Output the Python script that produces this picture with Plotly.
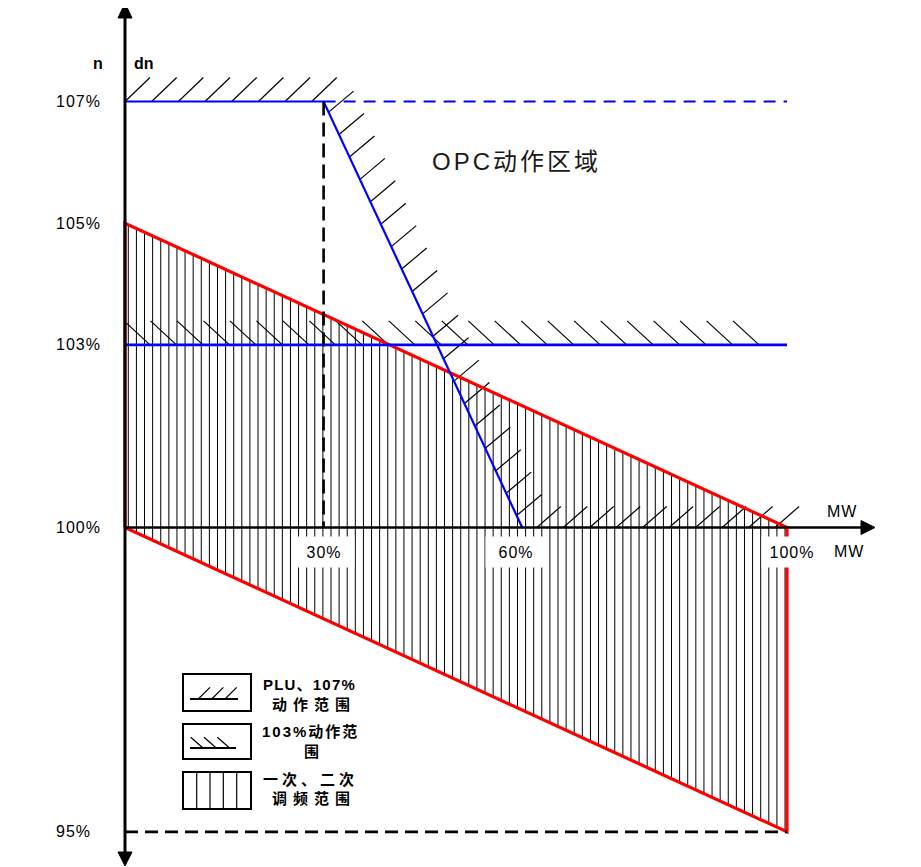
import numpy as np
import plotly.graph_objects as go

# ---------------- data (percent units) ----------------
x_tick_vals = [30, 60, 100]
x_tick_text = ["30%", "60%", "100%"]
y_tick_vals = [107, 105, 103, 100, 95]
y_tick_text = ["107%", "105%", "103%", "100%", "95%"]

# primary / secondary frequency regulation band (parallelogram)
band_x = [0, 0, 100, 100, 0]
band_y = [100, 105, 100, 95, 100]
band_upper_x = [0, 100]
band_upper_y = [105, 100]
band_lower_x = [0, 100]
band_lower_y = [100, 95]

# OPC / PLU 107% limit
opc_x = [0, 30, 60]
opc_y = [107, 107, 100]
opc_dash_x = [30, 100]
opc_dash_y = [107, 107]
# 103% limit
lim103_x = [0, 100]
lim103_y = [103, 103]
# 30% load marker and 95% floor
load30_x = [30, 30]
load30_y = [107, 100]
min95_x = [0, 100]
min95_y = [95, 95]

legend_lines = [["PLU、107%", "动作范围"], ["103%动作范", "围"], ["一次、二次", "调频范围"]]

# ---------------- pixel <-> data mapping (screen pixels) ----------------
OFF = 8                      # browser body margin
W, H = 921 - OFF, 867 - OFF
X0PX, XSCALE = 125.0, 6.62     # screen px of 0%, px per 1%
Y0PX, YSCALE = 527.5, 60.86    # screen px of 100%, px per 1%
xr = [(OFF - X0PX) / XSCALE, (OFF + W - X0PX) / XSCALE]
yr = [100 - (OFF + H - Y0PX) / YSCALE, 100 + (Y0PX - OFF) / YSCALE]


def px2x(p):
    return (p - X0PX) / XSCALE


def py2y(p):
    return 100 - (p - Y0PX) / YSCALE


def seg_trace(segs, color="black", width=1.0, dash=None):
    xs, ys = [], []
    for (a, b, c, d) in segs:
        xs += [a, c, None]
        ys += [b, d, None]
    return go.Scatter(x=xs, y=ys, mode="lines", hoverinfo="skip", showlegend=False,
                      line=dict(color=color, width=width, dash=dash))


def ticks(bases, vec_px):
    dx, dy = vec_px[0] / XSCALE, -vec_px[1] / YSCALE
    return [(bx, by, bx + dx, by + dy) for bx, by in bases]


fig = go.Figure()

# vertical hatch inside regulation band
vx = np.linspace(0.5, 99.7, 82)
vtop = np.interp(vx, band_upper_x, band_upper_y)
vbot = np.interp(vx, band_lower_x, band_lower_y)
fig.add_trace(seg_trace([(x, b, x, t) for x, t, b in zip(vx, vtop, vbot)], width=1))

# PLU 107% hatch (above 107 line, 0..30%)
b107 = [(x, 107) for x in np.arange(0, 29, 4.03)]
# along OPC slope
tt = np.linspace(0.025, 0.972, 19)
bdiag = [(opc_x[1] + t * (opc_x[2] - opc_x[1]), opc_y[1] + t * (opc_y[2] - opc_y[1])) for t in tt]
# along axis beyond 60%
baxis = [(62.2 + 4 * k, 100) for k in range(10)]
segs = ticks(b107, (25, -24)) + ticks(bdiag, (25, -21)) + ticks(baxis, (24, -21))
fig.add_trace(seg_trace(segs, width=1.2))

# 103% hatch
b103 = [(3.78 + 4 * k, 103) for k in range(24)]
fig.add_trace(seg_trace(ticks(b103, (-26, -24)), width=1.2))

# red band outline
fig.add_trace(go.Scatter(x=band_x, y=band_y, mode="lines", hoverinfo="skip", showlegend=False,
                         line=dict(color="#ff0000", width=3.2)))
# blue limits
fig.add_trace(go.Scatter(x=lim103_x, y=lim103_y, mode="lines", showlegend=False,
                         line=dict(color="#0000ff", width=2.6)))
fig.add_trace(go.Scatter(x=opc_dash_x, y=opc_dash_y, mode="lines", showlegend=False,
                         line=dict(color="#0000ff", width=2.2, dash="12px,8px")))
fig.add_trace(go.Scatter(x=opc_x, y=opc_y, mode="lines", showlegend=False,
                         line=dict(color="#0000ff", width=2.2)))
# black dashed guides
fig.add_trace(go.Scatter(x=load30_x, y=load30_y, mode="lines", showlegend=False,
                         line=dict(color="black", width=2.6, dash="14px,7px")))
fig.add_trace(go.Scatter(x=min95_x, y=min95_y, mode="lines", showlegend=False,
                         line=dict(color="black", width=2.8, dash="13px,7px")))

shapes = []
# axes lines
shapes.append(dict(type="line", xref="x", yref="y", x0=0, x1=0, y0=py2y(10), y1=py2y(858),
                   line=dict(color="black", width=3)))
shapes.append(dict(type="line", xref="x", yref="y", x0=0, x1=px2x(864), y0=100, y1=100,
                   line=dict(color="black", width=2.6)))


def tri(p):
    pts = [(px2x(a), py2y(b)) for a, b in p]
    return "M " + " L ".join(f"{a},{b}" for a, b in pts) + " Z"


for p in ([(125, 3), (118, 18), (132, 18)],
          [(125, 866), (118, 852), (132, 852)],
          [(875, 527.5), (861, 520.5), (861, 534.5)]):
    shapes.append(dict(type="path", xref="x", yref="y", path=tri(p), fillcolor="black",
                       line=dict(color="black", width=1)))


def pline(x0, y0, x1, y1, w=1.2):
    return dict(type="line", xref="x", yref="y", x0=px2x(x0), y0=py2y(y0), x1=px2x(x1),
                y1=py2y(y1), line=dict(color="black", width=w))


def prect(x0, y0, x1, y1):
    return dict(type="rect", xref="x", yref="y", x0=px2x(x0), y0=py2y(y0), x1=px2x(x1),
                y1=py2y(y1), line=dict(color="black", width=2), fillcolor="white")


# legend key boxes
shapes.append(prect(183, 674, 251, 711))
shapes.append(pline(190, 699, 238, 699, 2))
for bx in (198.3, 211.7, 225):
    shapes.append(pline(bx, 699, bx + 11.7, 687.3))
shapes.append(prect(183, 724, 251, 759))
shapes.append(pline(190, 748, 236, 748, 2))
for bx in (190.7, 204, 217.3):
    shapes.append(pline(bx, 737.3, bx + 12, 747.7))
shapes.append(prect(183, 772, 251, 809))
for vx_ in (196.7, 210, 223.3, 236.7):
    shapes.append(pline(vx_, 772, vx_, 809, 1.2))

LAT = "Liberation Sans, Arial, Noto Sans CJK SC, sans-serif"
CJK = "Liberation Sans, Noto Sans CJK SC, sans-serif"


def sp(t, s):
    return f'<span style="letter-spacing:{s}px">{t}</span>'


ann = []
for v, t in zip(y_tick_vals, y_tick_text):
    ann.append(dict(x=px2x(54), y=v, xref="x", yref="y", text=sp(t, 1), showarrow=False,
                    xanchor="left", yanchor="middle", font=dict(family=LAT, size=16, color="black")))
for v, t, sh in zip(x_tick_vals, x_tick_text, [0, -6, 5]):
    ann.append(dict(x=v, y=py2y(551.5), xref="x", yref="y", text=sp(t, 1), showarrow=False,
                    xshift=sh, width=58, height=28, bgcolor="white",
                    font=dict(family=LAT, size=16, color="black")))
ann.append(dict(x=px2x(842), y=py2y(511), xref="x", yref="y", text=sp("MW", 1), showarrow=False,
                font=dict(family=LAT, size=16, color="black")))
ann.append(dict(x=px2x(849), y=py2y(551), xref="x", yref="y", text=sp("MW", 1), showarrow=False,
                font=dict(family=LAT, size=16, color="black")))
ann.append(dict(x=px2x(98), y=py2y(63), xref="x", yref="y", text="<b>n</b>", showarrow=False,
                font=dict(family=LAT, size=16, color="black")))
ann.append(dict(x=px2x(144), y=py2y(63), xref="x", yref="y", text="<b>dn</b>", showarrow=False,
                font=dict(family=LAT, size=16, color="black")))
ann.append(dict(x=px2x(516), y=py2y(161), xref="x", yref="y", text=sp("OPC动作区域", 3),
                showarrow=False, font=dict(family=CJK, size=24, color="#1a1a1a")))
leg_pos = [((309, 684), (314, 704)), ((310, 731), (311.5, 751)), ((310, 779), (314, 798))]
leg_sp = [(1.2, 6), (2, 0), (4, 6)]
for lines, pos, sps in zip(legend_lines, leg_pos, leg_sp):
    for t, (px_, py_), s in zip(lines, pos, sps):
        ann.append(dict(x=px2x(px_), y=py2y(py_), xref="x", yref="y", text="<b>" + sp(t, s) + "</b>",
                        showarrow=False, font=dict(family=CJK, size=15, color="black")))

fig.update_layout(
    width=W, height=H, autosize=False,
    margin=dict(l=0, r=0, t=0, b=0, pad=0),
    paper_bgcolor="white", plot_bgcolor="white",
    xaxis=dict(range=xr, visible=False, fixedrange=True),
    yaxis=dict(range=yr, visible=False, fixedrange=True),
    shapes=shapes, annotations=ann, showlegend=False,
)

fig.write_html("out.html")
